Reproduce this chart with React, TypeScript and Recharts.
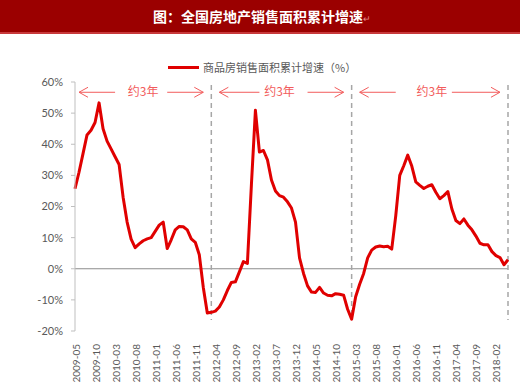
import React from 'react';
import { LineChart, Line, XAxis, YAxis, ReferenceLine, ReferenceDot } from 'recharts';

// 商品房销售面积累计增速（%），2009-05 ~ 2018-05，按月
const growth = [
  25.7, 31, 37, 43, 44.5, 47, 53.3, 45, 41, 38.5, 36, 33.5,
  23, 15, 9.5, 6.8, 8, 9, 9.6, 10, 12, 14, 15, 6.5,
  9.3, 12.5, 13.6, 13.5, 12.5, 9.6, 8.5, 4.5, -6, -14.2, -14, -13.6,
  -12.3, -10, -7, -4.4, -4.2, -1, 2.3, 1.7, 27, 50.9, 37.5, 38,
  35, 28.5, 25, 23.5, 23, 21.5, 19.5, 15, 3.5, -1.5, -5.5, -7.5,
  -7.6, -6, -7.8, -8.5, -8.7, -8, -8.2, -8.5, -13, -16.2, -9, -5,
  -1.5, 3.5, 6, 7, 7.3, 7.1, 7.2, 6.3, 17, 30, 33.1, 36.5,
  33, 27.9, 26.8, 25.8, 26.5, 27, 24.6, 22.5, 23.5, 24.8, 19.2, 15.5,
  14.5, 16, 14, 12.5, 10.5, 8.2, 7.7, 7.7, 5.5, 4.2, 3.6, 1.3,
  2.9,
];

const START_YEAR = 2009;
const START_MONTH = 5;
const months = growth.map((_, i) => {
  const t = START_MONTH - 1 + i;
  const y = START_YEAR + Math.floor(t / 12);
  const m = (t % 12) + 1;
  return `${y}-${String(m).padStart(2, '0')}`;
});

const data = months.map((month, i) => ({ month, growth: growth[i] }));

const yTicks = [-20, -10, 0, 10, 20, 30, 40, 50, 60];

// 周期分隔线
const cycleLines = ['2012-03', '2015-02', '2018-05'];

// “约3年”标注：左箭头、文字、右箭头
const cycles = [
  { leftHead: '2009-06', leftTail: '2010-03', text: '2010-10', rightTail: '2011-04', rightHead: '2012-01' },
  { leftHead: '2012-05', leftTail: '2013-03', text: '2013-08', rightTail: '2014-03', rightHead: '2014-12' },
  { leftHead: '2015-04', leftTail: '2016-01', text: '2016-10', rightTail: '2017-03', rightHead: '2018-03' },
];
const ARROW_Y = 56.7;
const NOTE_COLOR = '#f25c5c';
const LINE_COLOR = '#e00000';

const Arrow = (props: any) => {
  const { x1, y1, x2, y2 } = props;
  const dir = x2 > x1 ? 1 : -1;
  return (
    <g stroke={NOTE_COLOR} strokeWidth={1} fill="none">
      <line x1={x1} y1={y1} x2={x2} y2={y2} />
      <polyline points={`${x1 + dir * 9},${y1 - 5} ${x1},${y1} ${x1 + dir * 9},${y1 + 5}`} />
    </g>
  );
};

const NoteText = (props: any) => (
  <text
    x={props.cx}
    y={props.cy}
    dy="0.35em"
    textAnchor="middle"
    fill={NOTE_COLOR}
    fontSize={12}
    fontFamily="'Noto Sans CJK SC', sans-serif"
  >
    约3年
  </text>
);

const MonthTick = (props: any) => {
  const { x, y, payload } = props;
  return (
    <text
      x={x + 1}
      y={y}
      transform={`rotate(-90, ${x + 1}, ${y})`}
      textAnchor="end"
      dy="0.35em"
      fill="#595959"
      fontSize={10}
      fontFamily="Lato, sans-serif"
    >
      {payload.value}
    </text>
  );
};

export default function App() {
  return (
    <div style={{ position: 'absolute', left: 0, top: 0, width: 520, height: 382, background: '#fff' }}>
      <div
        style={{
          position: 'absolute',
          left: 0,
          top: 0,
          width: 520,
          height: 32,
          background: '#9b0000',
          borderBottom: '2px solid #c8393b',
          color: '#fff',
          fontFamily: "'Noto Sans CJK SC', sans-serif",
          fontWeight: 700,
          fontSize: 14,
          lineHeight: '33px',
          textAlign: 'center',
          zIndex: 2,
        }}
      >
        <span style={{ marginLeft: 4 }}>图：全国房地产销售面积累计增速</span>
        <span style={{ fontSize: 9, color: '#e08a8a', fontWeight: 400 }}>↵</span>
      </div>
      <div
        style={{
          position: 'absolute',
          left: 168,
          top: 59,
          display: 'flex',
          alignItems: 'center',
          whiteSpace: 'nowrap',
          zIndex: 2,
        }}
      >
        <div style={{ width: 31, height: 3, background: LINE_COLOR, marginRight: 4 }} />
        <span style={{ fontSize: 11, color: '#595959', fontFamily: "'Noto Sans CJK SC', sans-serif" }}>
          商品房销售面积累计增速（%）
        </span>
      </div>
      <LineChart width={520} height={382} data={data} margin={{ top: 82, right: 12, left: 0, bottom: 0 }}>
        <XAxis
          dataKey="month"
          interval={4}
          axisLine={false}
          tickLine={false}
          height={51}
          tick={<MonthTick />}
          tickMargin={7}
        />
        <YAxis
          domain={[-20, 60]}
          ticks={yTicks}
          width={75}
          tickFormatter={(v: number) => `${v}%`}
          axisLine={{ stroke: '#bfbfbf' }}
          tickLine={{ stroke: '#bfbfbf' }}
          tickSize={4}
          tickMargin={8}
          tick={{ fill: '#595959', fontSize: 11, fontFamily: 'Lato, sans-serif' }}
        />
        <ReferenceLine y={0} stroke="#8c8c8c" strokeWidth={1.2} />
        {cycleLines.map((m) => (
          <ReferenceLine
            key={m}
            segment={[{ x: m, y: 59 }, { x: m, y: -16.5 }]}
            stroke="#a6a6a6"
            strokeWidth={1.5}
            strokeDasharray="5 4"
          />
        ))}
        {cycles.map((c) => (
          <ReferenceLine
            key={c.leftHead}
            segment={[{ x: c.leftHead, y: ARROW_Y }, { x: c.leftTail, y: ARROW_Y }]}
            shape={Arrow}
          />
        ))}
        {cycles.map((c) => (
          <ReferenceLine
            key={c.rightHead}
            segment={[{ x: c.rightHead, y: ARROW_Y }, { x: c.rightTail, y: ARROW_Y }]}
            shape={Arrow}
          />
        ))}
        {cycles.map((c) => (
          <ReferenceDot key={c.text} x={c.text} y={ARROW_Y} r={0} shape={NoteText} />
        ))}
        <Line
          type="linear"
          dataKey="growth"
          stroke={LINE_COLOR}
          strokeWidth={3}
          strokeLinejoin="round"
          dot={false}
          isAnimationActive={false}
        />
      </LineChart>
    </div>
  );
}
